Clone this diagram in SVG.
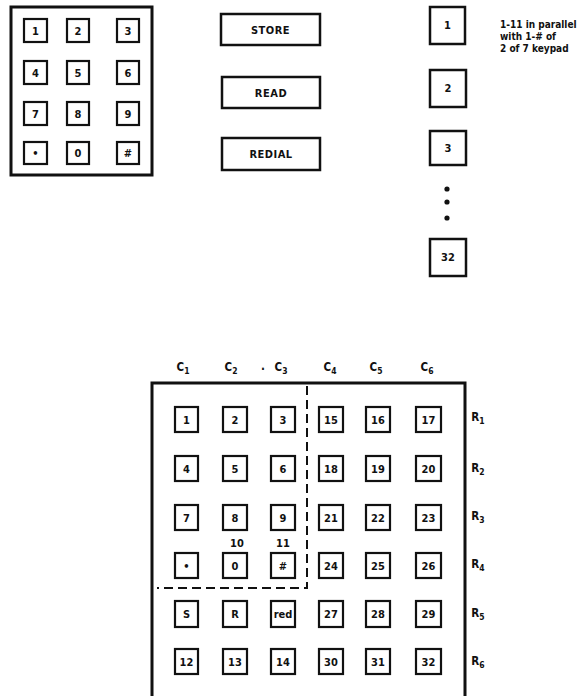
<svg xmlns="http://www.w3.org/2000/svg" width="585" height="696" viewBox="0 0 585 696">
<style>
text{font-family:"Liberation Sans Narrow","DejaVu Sans Condensed","Liberation Sans",sans-serif;font-weight:bold;fill:#111;text-anchor:middle}
.k{fill:#fff;stroke:#111;stroke-width:2.2}
.kt{font-size:11px}
.big{fill:none;stroke:#111;stroke-width:3}
.btn{fill:#fff;stroke:#111;stroke-width:2.5}
.bt{font-size:11px;letter-spacing:0.5px}
.lbl{font-size:11.5px}
.sub{font-size:8.5px}
.dash{fill:none;stroke:#111;stroke-width:2;stroke-dasharray:9 5}
.note{font-size:10px;text-anchor:start}
</style>
<rect width="585" height="696" fill="#fff"/>

<g id="keypad">
<rect class="big" x="11" y="7" width="141" height="168"/>
<g id="kp1"><rect class="k" x="24" y="19" width="23" height="23"/><text class="kt" x="35.5" y="34.5">1</text></g>
<g id="kp2"><rect class="k" x="67" y="19" width="22" height="23"/><text class="kt" x="78" y="34.5">2</text></g>
<g id="kp3"><rect class="k" x="117" y="19" width="22" height="23"/><text class="kt" x="128" y="34.5">3</text></g>
<g id="kp4"><rect class="k" x="24" y="61" width="23" height="23"/><text class="kt" x="35.5" y="76.5">4</text></g>
<g id="kp5"><rect class="k" x="67" y="61" width="22" height="23"/><text class="kt" x="78" y="76.5">5</text></g>
<g id="kp6"><rect class="k" x="117" y="61" width="22" height="23"/><text class="kt" x="128" y="76.5">6</text></g>
<g id="kp7"><rect class="k" x="24" y="102" width="23" height="23"/><text class="kt" x="35.5" y="117.5">7</text></g>
<g id="kp8"><rect class="k" x="67" y="102" width="22" height="23"/><text class="kt" x="78" y="117.5">8</text></g>
<g id="kp9"><rect class="k" x="117" y="102" width="22" height="23"/><text class="kt" x="128" y="117.5">9</text></g>
<g id="kpstar"><rect class="k" x="24" y="142" width="23" height="22"/><text class="kt" x="35.5" y="157">•</text></g>
<g id="kp0"><rect class="k" x="67" y="142" width="22" height="22"/><text class="kt" x="78" y="157">0</text></g>
<g id="kphash"><rect class="k" x="117" y="142" width="22" height="22"/><text class="kt" x="128" y="157">#</text></g>
</g>

<g id="store"><rect class="btn" x="221" y="14" width="99" height="31"/><text class="bt" x="270.5" y="33.5">STORE</text></g>
<g id="read"><rect class="btn" x="222" y="77" width="98" height="31"/><text class="bt" x="271" y="96.5">READ</text></g>
<g id="redial"><rect class="btn" x="222" y="138" width="98" height="32"/><text class="bt" x="271" y="158">REDIAL</text></g>

<g id="sw1"><rect class="btn" x="430" y="7" width="35" height="37"/><text class="kt" x="447.5" y="29">1</text></g>
<g id="sw2"><rect class="btn" x="430" y="70" width="36" height="37"/><text class="kt" x="448" y="92">2</text></g>
<g id="sw3"><rect class="btn" x="430" y="131" width="36" height="34"/><text class="kt" x="448" y="152">3</text></g>
<g id="ellipsis"><circle cx="447" cy="189" r="2.6" fill="#111"/><circle cx="447" cy="202" r="2.6" fill="#111"/><circle cx="447" cy="218" r="2.6" fill="#111"/></g>
<g id="sw32"><rect class="btn" x="430" y="239" width="36" height="37"/><text class="kt" x="448" y="261">32</text></g>
<g id="note"><text class="note" x="500" y="28">1-11 in parallel</text><text class="note" x="500" y="40">with 1-# of</text><text class="note" x="500" y="52">2 of 7 keypad</text></g>

<g id="matrix">
<path class="big" d="M152,696 V383 H465 V696"/>
<g id="colLabels">
<text class="lbl" x="183" y="371">C<tspan class="sub" dy="3">1</tspan></text>
<text class="lbl" x="231" y="371">C<tspan class="sub" dy="3">2</tspan></text>
<text class="lbl" x="263" y="370">.</text>
<text class="lbl" x="281" y="371">C<tspan class="sub" dy="3">3</tspan></text>
<text class="lbl" x="330" y="371">C<tspan class="sub" dy="3">4</tspan></text>
<text class="lbl" x="376" y="371">C<tspan class="sub" dy="3">5</tspan></text>
<text class="lbl" x="427" y="371">C<tspan class="sub" dy="3">6</tspan></text>
</g>
<g id="rowLabels">
<text class="lbl" x="478" y="421">R<tspan class="sub" dy="3">1</tspan></text>
<text class="lbl" x="478" y="472">R<tspan class="sub" dy="3">2</tspan></text>
<text class="lbl" x="478" y="520">R<tspan class="sub" dy="3">3</tspan></text>
<text class="lbl" x="478" y="568">R<tspan class="sub" dy="3">4</tspan></text>
<text class="lbl" x="478" y="617">R<tspan class="sub" dy="3">5</tspan></text>
<text class="lbl" x="478" y="665">R<tspan class="sub" dy="3">6</tspan></text>
</g>
<g id="m1"><rect class="k" x="175" y="407" width="23" height="25"/><text class="kt" x="186.5" y="423.5">1</text></g>
<g id="m2"><rect class="k" x="223" y="407" width="24" height="25"/><text class="kt" x="235" y="423.5">2</text></g>
<g id="m3"><rect class="k" x="271" y="407" width="24" height="25"/><text class="kt" x="283" y="423.5">3</text></g>
<g id="m15"><rect class="k" x="319" y="407" width="24" height="25"/><text class="kt" x="331" y="423.5">15</text></g>
<g id="m16"><rect class="k" x="366" y="407" width="24" height="25"/><text class="kt" x="378" y="423.5">16</text></g>
<g id="m17"><rect class="k" x="416" y="407" width="25" height="25"/><text class="kt" x="428.5" y="423.5">17</text></g>

<g id="m4"><rect class="k" x="175" y="456" width="23" height="25"/><text class="kt" x="186.5" y="472.5">4</text></g>
<g id="m5"><rect class="k" x="223" y="456" width="24" height="25"/><text class="kt" x="235" y="472.5">5</text></g>
<g id="m6"><rect class="k" x="271" y="456" width="24" height="25"/><text class="kt" x="283" y="472.5">6</text></g>
<g id="m18"><rect class="k" x="319" y="456" width="24" height="25"/><text class="kt" x="331" y="472.5">18</text></g>
<g id="m19"><rect class="k" x="366" y="456" width="24" height="25"/><text class="kt" x="378" y="472.5">19</text></g>
<g id="m20"><rect class="k" x="416" y="456" width="25" height="25"/><text class="kt" x="428.5" y="472.5">20</text></g>

<g id="m7"><rect class="k" x="175" y="505" width="23" height="25"/><text class="kt" x="186.5" y="521.5">7</text></g>
<g id="m8"><rect class="k" x="223" y="505" width="24" height="25"/><text class="kt" x="235" y="521.5">8</text></g>
<g id="m9"><rect class="k" x="271" y="505" width="24" height="25"/><text class="kt" x="283" y="521.5">9</text></g>
<g id="m21"><rect class="k" x="319" y="505" width="24" height="25"/><text class="kt" x="331" y="521.5">21</text></g>
<g id="m22"><rect class="k" x="366" y="505" width="24" height="25"/><text class="kt" x="378" y="521.5">22</text></g>
<g id="m23"><rect class="k" x="416" y="505" width="25" height="25"/><text class="kt" x="428.5" y="521.5">23</text></g>

<g id="mstar"><rect class="k" x="175" y="553" width="23" height="25"/><text class="kt" x="186.5" y="569.5">•</text></g>
<g id="m0"><rect class="k" x="223" y="553" width="24" height="25"/><text class="kt" x="235" y="569.5">0</text></g>
<g id="mhash"><rect class="k" x="271" y="553" width="24" height="25"/><text class="kt" x="283" y="569.5">#</text></g>
<g id="m24"><rect class="k" x="319" y="553" width="24" height="25"/><text class="kt" x="331" y="569.5">24</text></g>
<g id="m25"><rect class="k" x="366" y="553" width="24" height="25"/><text class="kt" x="378" y="569.5">25</text></g>
<g id="m26"><rect class="k" x="416" y="553" width="25" height="25"/><text class="kt" x="428.5" y="569.5">26</text></g>

<g id="mS"><rect class="k" x="175" y="601" width="23" height="26"/><text class="kt" x="186.5" y="618">S</text></g>
<g id="mR"><rect class="k" x="223" y="601" width="24" height="26"/><text class="kt" x="235" y="618">R</text></g>
<g id="mred"><rect class="k" x="271" y="601" width="24" height="26"/><text class="kt" x="283" y="618">red</text></g>
<g id="m27"><rect class="k" x="319" y="601" width="24" height="26"/><text class="kt" x="331" y="618">27</text></g>
<g id="m28"><rect class="k" x="366" y="601" width="24" height="26"/><text class="kt" x="378" y="618">28</text></g>
<g id="m29"><rect class="k" x="416" y="601" width="25" height="26"/><text class="kt" x="428.5" y="618">29</text></g>

<g id="m12"><rect class="k" x="175" y="649" width="23" height="25"/><text class="kt" x="186.5" y="665.5">12</text></g>
<g id="m13"><rect class="k" x="223" y="649" width="24" height="25"/><text class="kt" x="235" y="665.5">13</text></g>
<g id="m14"><rect class="k" x="271" y="649" width="24" height="25"/><text class="kt" x="283" y="665.5">14</text></g>
<g id="m30"><rect class="k" x="319" y="649" width="24" height="25"/><text class="kt" x="331" y="665.5">30</text></g>
<g id="m31"><rect class="k" x="366" y="649" width="24" height="25"/><text class="kt" x="378" y="665.5">31</text></g>
<g id="m32"><rect class="k" x="416" y="649" width="25" height="25"/><text class="kt" x="428.5" y="665.5">32</text></g>

<text class="kt" x="237" y="547">10</text>
<text class="kt" x="283" y="547">11</text>
</g>

<g id="connectors">
<path class="dash" d="M307,386 V588 H157"/>
</g>
</svg>
